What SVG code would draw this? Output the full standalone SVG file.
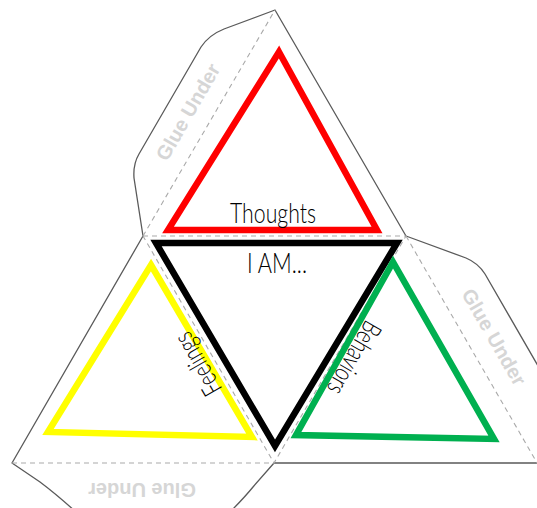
<svg xmlns="http://www.w3.org/2000/svg" width="537" height="508" viewBox="0 0 537 508">
<style>
.cut{fill:none;stroke:#5a5a5a;stroke-width:1.3;stroke-linejoin:round}
.fold{fill:none;stroke:#a9a9a9;stroke-width:1.1;stroke-dasharray:5 4}
.tri{fill:none;stroke-width:6.5;stroke-linejoin:miter}
.glue{font-family:"Liberation Sans",Arial,sans-serif;font-weight:bold;font-size:20px;fill:#d6d6d6;text-anchor:middle}
.lbl{font-family:"Lato","DejaVu Sans",sans-serif;font-weight:300;font-size:27px;fill:#000;text-anchor:middle}
</style>
<rect width="537" height="508" fill="#fff"/>
<g id="outline">
<path class="cut" d="M143,236 L134,178 Q133,164 139,154 L201,47 Q209,35 224,29 L275,10 L406,236 L466,258 Q478,263 485,274 L545,378"/>
<path class="cut" d="M143,236 L12,463 L40,482 Q56,494 76,512"/>
<path class="cut" d="M545,463 L274,463 L253,487 Q244,498 230,512"/>
</g>
<g id="connectors">
<path class="fold" d="M143,236 L406,236 L274,463 Z"/>
<path class="fold" d="M143,236 L275,10"/>
<path class="fold" d="M406,236 L540,468"/>
<path class="fold" d="M12,463 L274,463"/>
</g>
<g id="glue-top"><text class="glue" transform="translate(188,112) rotate(-60)" y="7">Glue Under</text></g>
<g id="glue-right"><text class="glue" transform="translate(494,337) rotate(60)" y="7">Glue Under</text></g>
<g id="glue-bottom"><text class="glue" transform="translate(142,490) rotate(180)" y="7">Glue Under</text></g>
<g id="thoughts">
<path class="tri" stroke="#ff0000" d="M279,52 L377,230 L168,230 Z"/>
<text class="lbl" x="273" y="223" textLength="86" lengthAdjust="spacingAndGlyphs">Thoughts</text>
</g>
<g id="iam">
<path class="tri" stroke="#000" stroke-width="7" d="M156,243 L397,243 L275,446 Z"/>
<text class="lbl" x="277" y="273" textLength="60" lengthAdjust="spacingAndGlyphs">I AM...</text>
</g>
<g id="feelings">
<path class="tri" stroke="#ffff00" d="M151,265 L252,437 L48,432 Z"/>
<text class="lbl" transform="translate(198,364) rotate(-120)" y="9" textLength="68" lengthAdjust="spacingAndGlyphs">Feelings</text>
</g>
<g id="behaviors">
<path class="tri" stroke="#00b050" d="M393,262 L494,439 L296,435 Z"/>
<text class="lbl" transform="translate(354,358) rotate(120)" y="9" textLength="80" lengthAdjust="spacingAndGlyphs">Behaviors</text>
</g>
</svg>
